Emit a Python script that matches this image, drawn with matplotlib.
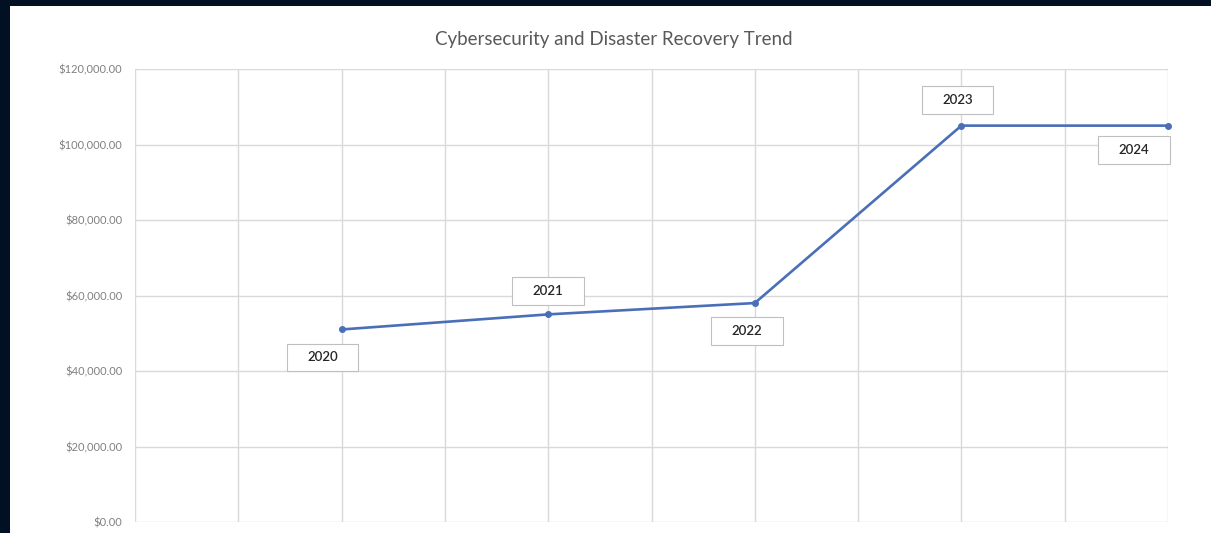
import matplotlib
matplotlib.use("Agg")
import matplotlib.pyplot as plt
from matplotlib.patches import Rectangle
from matplotlib.path import Path
from matplotlib.ticker import MultipleLocator, FuncFormatter

years = [2020, 2021, 2022, 2023, 2024]
values = [51000, 55000, 58000, 105000, 105000]
labels = ["2020", "2021", "2022", "2023", "2024"]
label_offsets = [(-19, -28), (0, 23), (-8, -28), (-4, 26), (-34, -24)]

plt.rcParams['font.family'] = ['Lato', 'DejaVu Sans']

W, H = 1211, 533
fig = plt.figure(figsize=(W / 100, H / 100), dpi=100)
fig.patch.set_facecolor('#021024')
bg = Rectangle((10 / W, 0), 1 - 10 / W, (H - 6) / H,
               transform=fig.transFigure, facecolor='white',
               edgecolor='none', zorder=-10)
fig.add_artist(bg)

ax = fig.add_axes([135 / W, (H - 522) / H, (1168 - 135) / W, (522 - 69) / H])
ax.set_zorder(1)
ax.set_facecolor('white')
ax.set_xlim(2019, 2024)
ax.set_ylim(0, 120000)
ax.xaxis.set_major_locator(MultipleLocator(0.5))
ax.yaxis.set_major_locator(MultipleLocator(20000))
ax.grid(True, color='#d9d9d9', linewidth=1)
ax.set_axisbelow(True)
for s in ax.spines.values():
    s.set_visible(False)
ax.tick_params(axis='x', length=0, labelbottom=False)
ax.tick_params(axis='y', length=0, labelsize=8, labelcolor='#808080', pad=9)
ax.yaxis.set_major_formatter(FuncFormatter(lambda v, p: f"${v:,.2f}"))

ax.plot(years, values, color='#4a6fb8', linewidth=1.9, marker='o',
        markersize=4, clip_on=False, zorder=3)


def wide_box(x0, y0, width, height, mutation_size):
    padx = 1.55 * mutation_size
    pady = 0.6 * mutation_size
    x0, y0 = x0 - padx, y0 - pady
    x1, y1 = x0 + width + 2 * padx, y0 + height + 2 * pady
    return Path([(x0, y0), (x1, y0), (x1, y1), (x0, y1), (x0, y0)],
                closed=True)


for x, y, lab, (dx, dy) in zip(years, values, labels, label_offsets):
    ax.annotate(lab, (x, y), xytext=(dx, dy), textcoords='offset pixels',
                ha='center', va='center', fontsize=9.5, color='#262626',
                fontweight='semibold',
                bbox=dict(boxstyle=wide_box, facecolor='white',
                          edgecolor='#bfbfbf', linewidth=0.8),
                zorder=4, annotation_clip=False)

fig.text(614 / W, 1 - 40 / H, "Cybersecurity and Disaster Recovery Trend",
         ha='center', va='center', fontsize=13.5, color='#595959')

fig.savefig('out.png', dpi=100, facecolor=fig.get_facecolor())
